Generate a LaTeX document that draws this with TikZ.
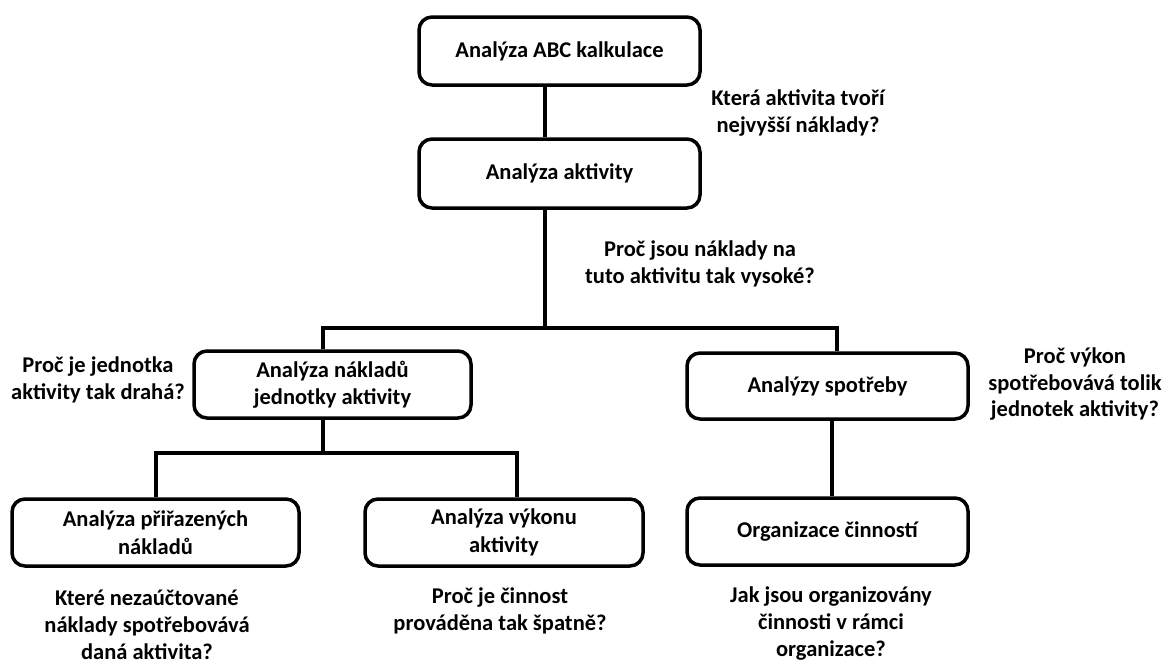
\documentclass[tikz,border=0pt]{standalone}
\usepackage{fontspec}
\setmainfont{Carlito}
\begin{document}
\begin{tikzpicture}[x=1pt,y=-1pt,
  box/.style={draw=black, line width=3.5pt, rounded corners=13pt, fill=white,
    align=center, inner sep=0pt, font=\fontsize{22.5}{27.5}\selectfont\bfseries},
  conn/.style={draw=black, line width=4pt},
  qtext/.style={align=center, inner sep=0pt, font=\fontsize{22.5}{27}\selectfont\bfseries}]
\useasboundingbox (0,0) rectangle (1175,664);
% boxes
\node[box, minimum width=281pt, minimum height=68pt] (b1) at (559.5,51) {Analýza ABC kalkulace};
\node[box, minimum width=281pt, minimum height=69pt] (b2) at (559.5,173.5) {Analýza aktivity};
\node[box, minimum width=277pt, minimum height=67pt] (b3) at (332.5,384.5) {Analýza nákladů\\jednotky aktivity};
\node[box, minimum width=281pt, minimum height=66pt] (b4) at (827.5,386) {Analýzy spotřeby};
\node[box, minimum width=287pt, minimum height=67pt] (b5) at (155.5,532.5) {Analýza přiřazených\\nákladů};
\node[box, minimum width=278pt, minimum height=67pt] (b6) at (504,532.5) {Analýza výkonu\\aktivity};
\node[box, minimum width=281pt, minimum height=67pt] (b7) at (827.5,531.5) {Organizace činností};
% junction points
\coordinate (j1) at (545,328);
\coordinate (l1) at (323,328);
\coordinate (r1) at (837,328);
\coordinate (j2) at (323,453);
\coordinate (l2) at (156,453);
\coordinate (r2) at (517,453);
\coordinate (c4) at (832,450);
% connectors
\draw[conn] (b1.south -| j1) -- (b2.north -| j1);
\draw[conn] (b2.south -| j1) -- (j1);
\draw[conn] (b3.north -| l1) -- (l1) -- (r1) -- (b4.north -| r1);
\draw[conn] (b3.south -| j2) -- (j2);
\draw[conn] (b5.north -| l2) -- (l2) -- (r2) -- (b6.north -| r2);
\draw[conn] (b4.south -| c4) -- (b7.north -| c4);
% question texts
\node[qtext] (t1) at (798,113) {Která aktivita tvoří\\nejvyšší náklady?};
\node[qtext] (t2) at (700,264) {Proč jsou náklady na\\tuto aktivitu tak vysoké?};
\node[qtext] (t3) at (98,380) {Proč je jednotka\\aktivity tak drahá?};
\node[qtext] (t4) at (1075,384) {Proč výkon\\spotřebovává tolik\\jednotek aktivity?};
\node[qtext] (t5) at (147,625) {Které nezaúčtované\\náklady spotřebovává\\daná aktivita?};
\node[qtext] (t6) at (500,611) {Proč je činnost\\prováděna tak špatně?};
\node[qtext] (t7) at (831,624) {Jak jsou organizovány\\činnosti v rámci\\organizace?};
\end{tikzpicture}
\end{document}
